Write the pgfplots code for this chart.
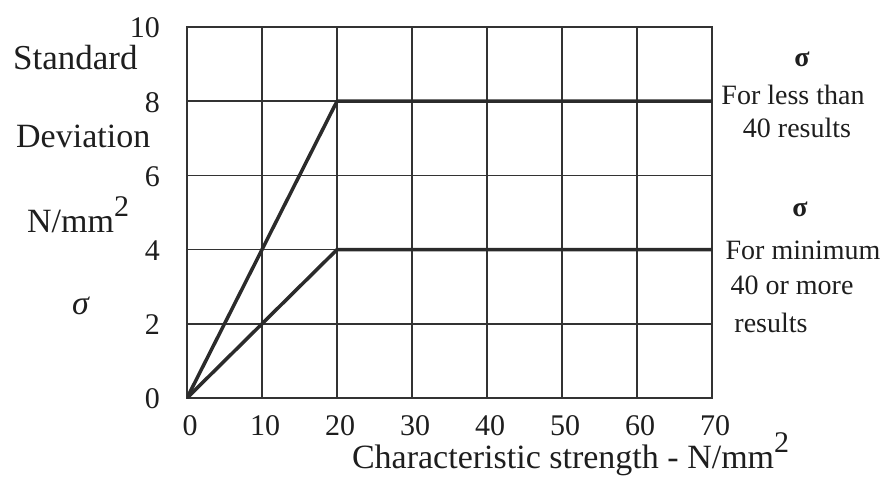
\documentclass[border=0pt]{standalone}
\usepackage{fontspec}
\setmainfont{Liberation Serif}
\usepackage{pgfplots}
\pgfplotsset{compat=1.18}
\definecolor{ink}{HTML}{1E1E1E}
\definecolor{linec}{HTML}{2B2B2B}
\definecolor{gridc}{HTML}{333333}
\begin{document}
\begin{tikzpicture}
\path (0pt,0pt) rectangle (882pt,479pt);
\begin{axis}[
  at={(187pt,81pt)}, anchor=south west,
  scale only axis, width=525pt, height=371pt,
  xmin=0, xmax=70, ymin=0, ymax=10,
  xtick={0,10,...,70}, ytick={0,2,...,10},
  grid=major,
  major grid style={gridc, line width=1.6pt},
  axis line style={gridc, line width=2pt},
  tick style={draw=none},
  /pgf/number format/assume math mode=true,
  ticklabel style={font=\fontsize{30}{32}\selectfont, text=ink, inner sep=0pt},
  xticklabel style={yshift=-17pt, xshift=3pt},
  yticklabel style={xshift=-27pt, yshift=-1pt},
  xlabel={Characteristic strength - N/mm\raisebox{16pt}{\fontsize{30}{32}\selectfont 2}},
  xlabel style={at={(axis description cs:0.314,-0.1887)}, anchor=base west, inner sep=0pt,
    font=\fontsize{34}{36}\selectfont, text=ink},
]
\addplot[linec, line width=3.5pt, line join=round] coordinates {(0,0) (20,8) (70,8)};
\addplot[linec, line width=3.5pt, line join=round] coordinates {(0,0) (20,4) (70,4)};
\end{axis}
\begin{scope}[every node/.style={inner sep=0pt, text=ink}]
\node[anchor=base west, font=\fontsize{35}{36}\selectfont] at (13pt,409pt) {Standard};
\node[anchor=base west, font=\fontsize{34}{36}\selectfont] at (16pt,331pt) {Deviation};
\node[anchor=base west, font=\fontsize{34}{36}\selectfont] at (27pt,246pt) {N/mm\raisebox{16pt}{\fontsize{30}{32}\selectfont 2}};
\node[anchor=base west, font=\fontsize{34}{36}\selectfont\itshape] at (72pt,164pt) {σ};
\node[anchor=base, font=\fontsize{28}{30}\selectfont\bfseries] at (802pt,412pt) {σ};
\node[anchor=base, font=\fontsize{28}{30}\selectfont] at (793pt,374pt) {For less than};
\node[anchor=base, font=\fontsize{28}{30}\selectfont] at (797pt,341pt) {40 results};
\node[anchor=base, font=\fontsize{28}{30}\selectfont\bfseries] at (800pt,262pt) {σ};
\node[anchor=base, font=\fontsize{28}{30}\selectfont] at (803pt,219pt) {For minimum};
\node[anchor=base, font=\fontsize{28}{30}\selectfont] at (792pt,184pt) {40 or more};
\node[anchor=base, font=\fontsize{28}{30}\selectfont] at (771pt,146pt) {results};
\end{scope}
\end{tikzpicture}
\end{document}
